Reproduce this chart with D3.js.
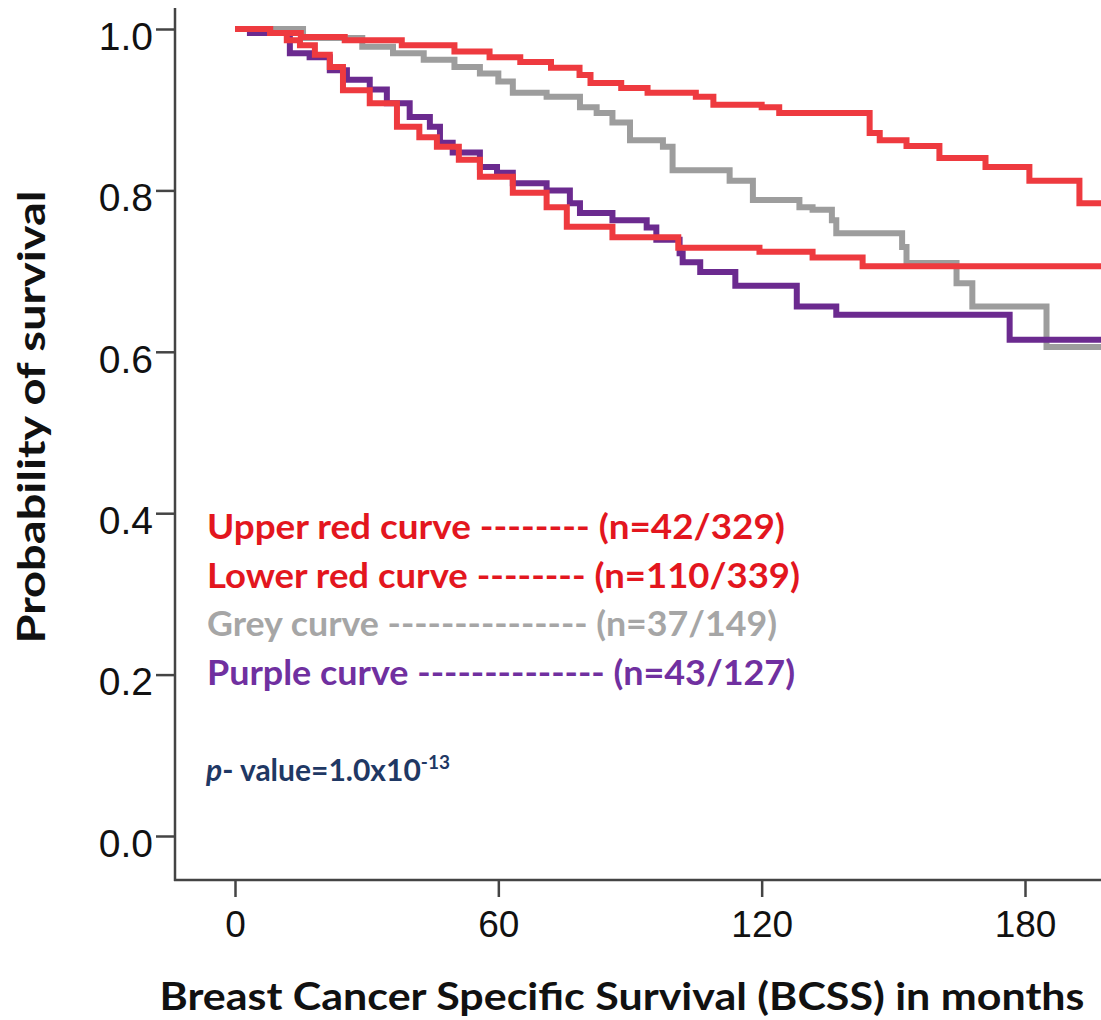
<!DOCTYPE html>
<html lang="en">
<head>
<meta charset="utf-8">
<title>BCSS Kaplan-Meier</title>
<style>
  body { margin: 0; background: #ffffff; overflow: hidden; }
  .tick text { font-family: "Liberation Sans", Arial, sans-serif; fill: #111; }
  .lbl { font-family: Lato, "Open Sans", sans-serif; font-weight: bold; }
</style>
</head>
<body>
<div id="chart"></div>
<script src="https://cdn.jsdelivr.net/npm/d3@7"></script>
<script>
// survival steps: [months, probability] at each drop
var upperRed = [[0,1],[8,0.995],[15,0.990],[25,0.986],[38,0.980],[50,0.972],[58,0.965],[65,0.959],[72,0.952],
  [78.5,0.943],[81,0.933],[88,0.927],[94,0.921],[105,0.916],[109,0.906],[120,0.903],[124,0.896],
  [144.6,0.871],[146.9,0.862],[153,0.855],[160.5,0.840],[171,0.829],[181,0.812],[192.4,0.784]];
var lowerRed = [[0,1],[8,0.995],[11.8,0.986],[14.8,0.980],[18.2,0.968],[21.6,0.953],[24.6,0.924],[30.7,0.908],
  [36.9,0.879],[42,0.866],[46,0.854],[51,0.838],[55.8,0.817],[63.3,0.797],[71,0.779],[75.6,0.755],
  [86,0.742],[101,0.729],[119.5,0.724],[131.6,0.717],[143,0.706]];
var grey = [[0,1],[15.5,0.989],[29,0.978],[36,0.970],[43,0.962],[50,0.953],[55.8,0.945],[60,0.935],[63.3,0.921],
  [71,0.916],[78.6,0.903],[82.4,0.896],[86,0.884],[90,0.862],[97.5,0.854],[99.7,0.825],[112.7,0.812],[118,0.788],
  [128.6,0.779],[131.6,0.776],[136,0.763],[137,0.747],[152,0.730],[153,0.710],[164.4,0.685],[168,0.656],[184.9,0.606]];
var purple = [[0,1],[3.4,0.995],[12.5,0.970],[17,0.965],[21.6,0.949],[25.5,0.937],[30.7,0.925],[34.6,0.908],
  [39.8,0.891],[44.4,0.879],[46.7,0.859],[49.6,0.847],[55.8,0.829],[59.7,0.822],[63.3,0.809],[71,0.800],
  [76.3,0.784],[78.6,0.772],[86,0.763],[93.8,0.754],[96,0.739],[101.3,0.722],[102,0.711],[106,0.699],
  [114,0.682],[128,0.656],[137,0.646],[176.5,0.615]];
var followUpEnd = 198;

var xTicks = [0, 60, 120, 180];
var yTicks = [0, 0.2, 0.4, 0.6, 0.8, 1.0];

var legendText = ["Upper red curve -------- (n=42/329)", "Lower red curve -------- (n=110/339)",
  "Grey curve --------------- (n=37/149)", "Purple curve -------------- (n=43/127)"];

var W = 1101, H = 1020;
var svg = d3.select("#chart").append("svg").attr("width", W).attr("height", H);

var x = d3.scaleLinear().domain([0, 180]).range([235, 1025]);
var y = d3.scaleLinear().domain([0, 1]).range([836, 29]);

// axes
var xAx = svg.append("g").attr("transform", "translate(0,880)")
  .call(d3.axisBottom(x).tickValues(xTicks).tickSize(17).tickPadding(9).tickFormat(d3.format("d")));
xAx.select(".domain").remove();
xAx.selectAll(".tick line").attr("stroke", "#444").attr("stroke-width", 2.5);
xAx.selectAll(".tick text").attr("font-size", 37).attr("dy", "0.85em");

var yAx = svg.append("g").attr("transform", "translate(175,0)")
  .call(d3.axisLeft(y).tickValues(yTicks).tickSize(19).tickPadding(3).tickFormat(d3.format(".1f")));
yAx.select(".domain").remove();
yAx.selectAll(".tick line").attr("stroke", "#444").attr("stroke-width", 2.5);
yAx.selectAll(".tick text").attr("font-size", 39).attr("dy", "0.52em");

svg.append("line").attr("x1", 175).attr("x2", 175).attr("y1", 8).attr("y2", 881)
  .attr("stroke", "#444").attr("stroke-width", 2.5);
svg.append("line").attr("x1", 174).attr("x2", W).attr("y1", 880).attr("y2", 880)
  .attr("stroke", "#444").attr("stroke-width", 2.5);

// curves
var line = d3.line().x(function(d){ return x(d[0]); }).y(function(d){ return y(d[1]); }).curve(d3.curveStepAfter);
var series = [
  {data: grey, color: "#9d9d9d"},
  {data: purple, color: "#6b2a8f"},
  {data: lowerRed, color: "#ee3a3f"},
  {data: upperRed, color: "#ee3a3f"}
];
series.forEach(function(s){
  var pts = s.data.concat([[followUpEnd, s.data[s.data.length - 1][1]]]);
  svg.append("path").attr("d", line(pts)).attr("fill", "none")
    .attr("stroke", s.color).attr("stroke-width", 6);
});

// legend
var legendColors = ["#e3161e", "#e3161e", "#a6a6a6", "#7030a0"];
var legendWidths = [578, 593, 570, 588];
legendText.forEach(function(t, i){
  svg.append("text").attr("class", "lbl").attr("x", 207).attr("y", 539 + i * 48.5)
    .attr("font-size", 35).attr("fill", legendColors[i])
    .attr("textLength", legendWidths[i]).attr("lengthAdjust", "spacingAndGlyphs").text(t);
});

var pv = svg.append("text").attr("class", "lbl").attr("x", 206).attr("y", 781)
  .attr("font-size", 30).attr("fill", "#1f3864");
pv.append("tspan").attr("font-style", "italic").text("p");
pv.append("tspan").text("- value=1.0x10");
pv.append("tspan").attr("font-size", 19).attr("dy", -12).text("-13");

// axis titles
svg.append("text").attr("class", "lbl").attr("x", 622).attr("y", 1010).attr("text-anchor", "middle")
  .attr("font-size", 38).attr("fill", "#111").attr("textLength", 925).attr("lengthAdjust", "spacingAndGlyphs")
  .text("Breast Cancer Specific Survival (BCSS) in months");
svg.append("text").attr("class", "lbl").attr("transform", "translate(45,417) rotate(-90)")
  .attr("text-anchor", "middle").attr("font-size", 38).attr("fill", "#111")
  .attr("textLength", 453).attr("lengthAdjust", "spacingAndGlyphs")
  .text("Probability of survival");
</script>
</body>
</html>
